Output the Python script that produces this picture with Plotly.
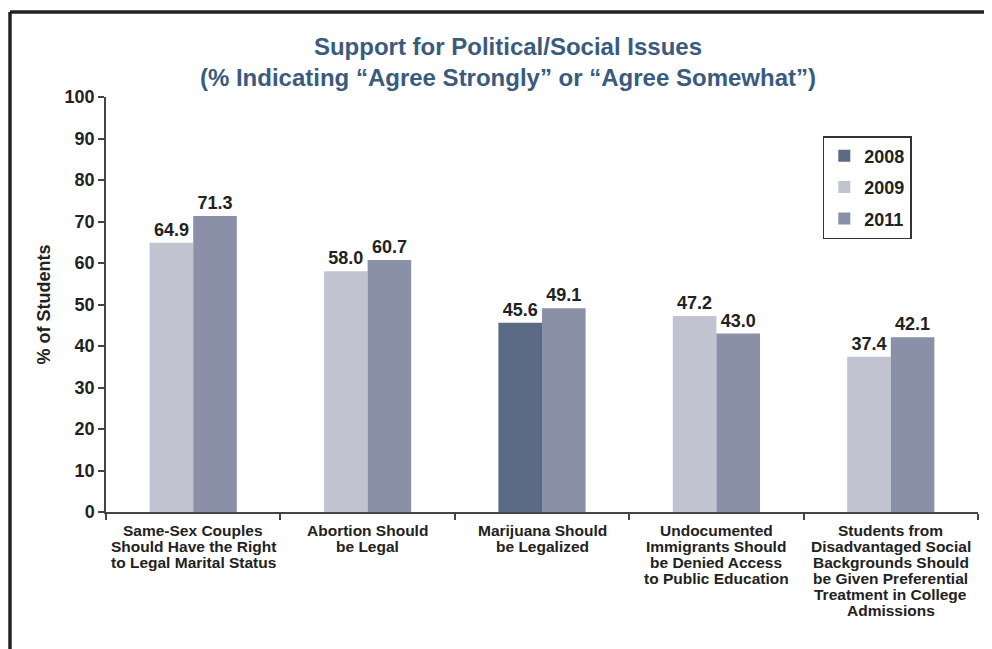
import plotly.graph_objects as go

categories = [
    "Same-Sex Couples<br>Should Have the Right<br>to Legal Marital Status",
    "Abortion Should<br>be Legal",
    "Marijuana Should<br>be Legalized",
    "Undocumented<br>Immigrants Should<br>be Denied Access<br>to Public Education",
    "Students from<br>Disadvantaged Social<br>Backgrounds Should<br>be Given Preferential<br>Treatment in College<br>Admissions",
]
values_2008 = [None, None, 45.6, None, None]
values_2009 = [64.9, 58.0, None, 47.2, 37.4]
values_2011 = [71.3, 60.7, 49.1, 43.0, 42.1]
y_ticks = [0, 10, 20, 30, 40, 50, 60, 70, 80, 90, 100]

FONT = "Liberation Sans, Arial, sans-serif"
BW = 0.25

fig = go.Figure()
series = [
    ("2008", values_2008, "#5b6a85", -BW),
    ("2009", values_2009, "#c1c3d1", -BW),
    ("2011", values_2011, "#8a90a7", 0.0),
]
for name, vals, color, off in series:
    fig.add_trace(go.Bar(
        x=categories, y=vals, name=name,
        marker=dict(color=color, line=dict(width=0)),
        width=BW, offset=off,
        text=[None if v is None else f"{v:.1f}" for v in vals],
        textposition="outside", cliponaxis=False,
        textfont=dict(family=FONT, size=18, color="#222222", weight="bold"),
        legendgroup=name,
    ))

# category labels, one annotation per line for tight line spacing
for cat in categories:
    for i, line in enumerate(cat.split("<br>")):
        fig.add_annotation(
            x=cat, y=0, xref="x", yref="paper",
            text=line, showarrow=False,
            xanchor="center", yanchor="middle",
            yshift=-(18 + 16 * i),
            font=dict(family=FONT, size=15.5, color="#222222", weight="bold"),
        )

fig.update_layout(
    width=992, height=649,
    paper_bgcolor="white", plot_bgcolor="white",
    margin=dict(l=98, r=22, t=89, b=145),
    barmode="overlay",
    font=dict(family=FONT, color="#222222"),
    title=dict(
        text="Support for Political/Social Issues<br>(% Indicating “Agree Strongly” or “Agree Somewhat”)",
        x=0.504, xref="container", xanchor="center",
        y=0.928, yref="container", yanchor="top",
        font=dict(family=FONT, size=24, color="#3a5a7e", weight="bold"),
    ),
    legend=dict(
        x=0.822, y=0.906, xanchor="left", yanchor="top",
        bordercolor="#333333", borderwidth=1.5, bgcolor="white",
        font=dict(family=FONT, size=18, color="#222222", weight="bold"),
        traceorder="grouped", tracegroupgap=5,
    ),
    showlegend=True,
)
fig.update_xaxes(
    showline=True, linecolor="#444444", linewidth=1.5,
    ticks="outside", tickson="boundaries", ticklen=6, tickcolor="#444444", tickwidth=1.5,
    showticklabels=False,
    showgrid=False,
)
fig.update_yaxes(
    range=[0, 100], tickvals=y_ticks,
    showline=True, linecolor="#444444", linewidth=1.5,
    ticks="outside", ticklen=6, tickcolor="#444444", tickwidth=1.5,
    tickfont=dict(family=FONT, size=18, color="#222222", weight="bold"),
    showgrid=False, zeroline=False,
    title=dict(text="% of Students", standoff=9,
               font=dict(family=FONT, size=18, color="#222222", weight="bold")),
)

# frame lines (top and left)
fig.add_shape(type="line", xref="paper", yref="paper",
              x0=(10 - 106) / 872, x1=(1000 - 106) / 872,
              y0=(512 - 12) / 415, y1=(512 - 12) / 415,
              line=dict(color="#222222", width=3.5))
fig.add_shape(type="line", xref="paper", yref="paper",
              x0=(10 - 106) / 872, x1=(10 - 106) / 872,
              y0=(512 - 12) / 415, y1=(512 - 660) / 415,
              line=dict(color="#222222", width=3.5))

fig.write_html("out.html")
